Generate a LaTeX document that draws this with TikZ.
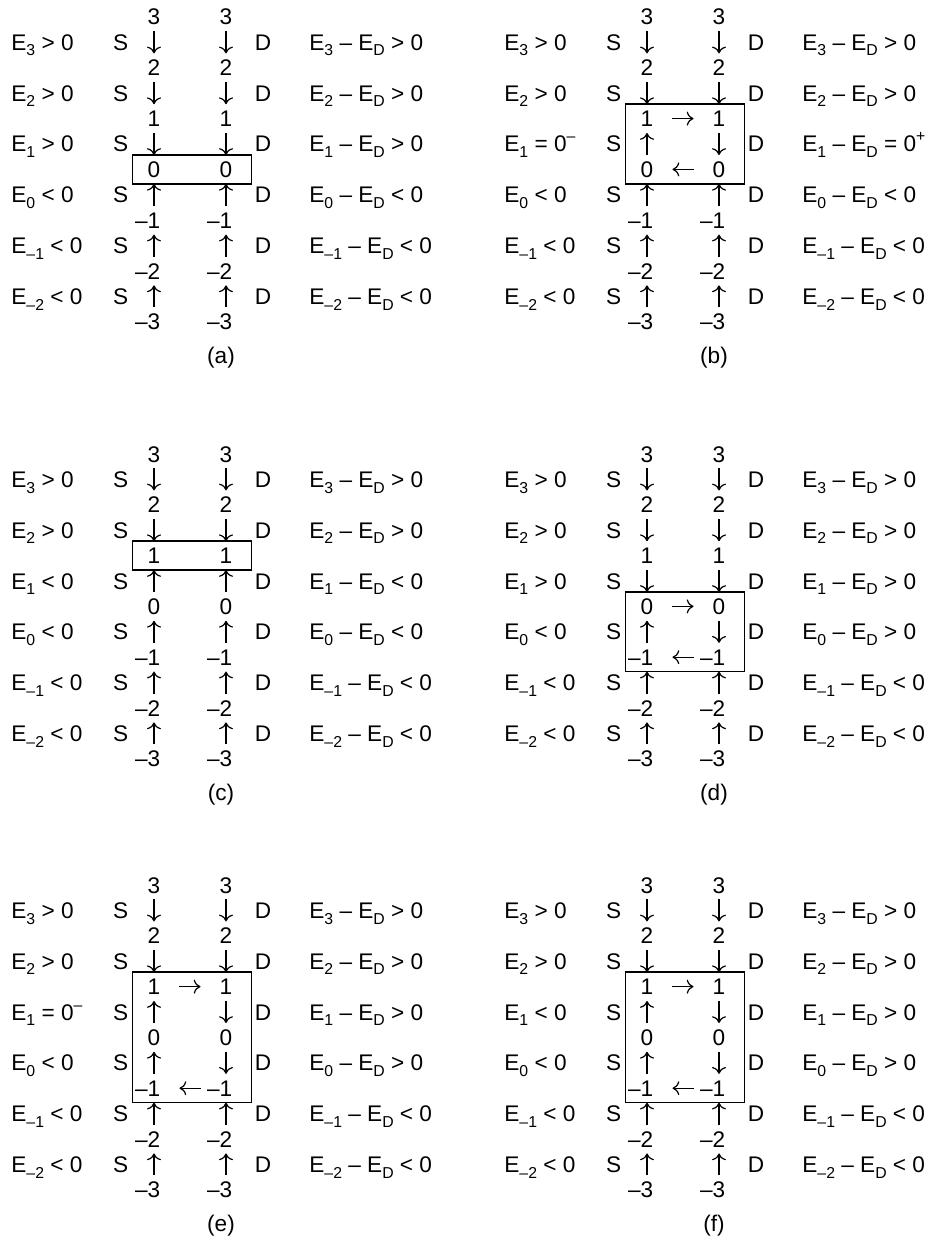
\documentclass[tikz,border=0pt]{standalone}
\usepackage{fontspec}
\setmainfont{Liberation Sans}
\usetikzlibrary{arrows.meta, fit}

\newcommand\lowidx[1]{\raisebox{-2.8pt}{\fontsize{7.9}{8}\selectfont #1}}
\newcommand\upidx[1]{\raisebox{5pt}{\fontsize{7.9}{8}\selectfont #1}}

\tikzset{
  rowtext/.style={inner sep=0pt, text height=8pt, text depth=0pt},
  lvnum/.style={inner sep=0pt, text height=8pt, text depth=0pt},
  hop/.style={-{Computer Modern Rightarrow[length=3.4pt,width=7pt]}, line width=0.6pt, shorten >=3pt, shorten <=3pt},
  hhop/.style={hop, shorten >=9.4pt, shorten <=9.4pt},
  levelbox/.style={draw, line width=0.85pt, inner xsep=8.4pt, inner ysep=3pt, xshift=1pt}
}

% #1 tag, #2/#3 offset, #4 rows sub/left/right/srcdir/drndir, #5/#6 box from/to level
\newcommand\levelpanel[6]{%
  \begin{scope}[shift={(#2,#3)}]
    % levels on both sides
    \foreach \n [count=\k from 0] in {3,2,1,0,\llap{\textendash}1,\llap{\textendash}2,\llap{\textendash}3} {
      \node[lvnum] (#1src\k) at (154,17+50.8*\k) {\n};
      \node[lvnum] (#1drn\k) at (226,17+50.8*\k) {\n};
    }
    % rows
    \foreach \sb/\lrel/\rrel/\ld/\rd [count=\r from 0] in {#4} {
      \pgfmathtruncatemacro\nx{\r+1}
      \node[rowtext, anchor=west] (#1e\r) at (11,42.4+50.8*\r) {E\lowidx{\sb} \lrel};
      \node[rowtext] (#1S\r) at (120.7,42.4+50.8*\r) {S};
      \node[rowtext] (#1D\r) at (263,42.4+50.8*\r) {D};
      \node[rowtext, anchor=west] (#1ed\r) at (309,42.4+50.8*\r) {E\lowidx{\sb} \textendash{} E\lowidx{D} \rrel};
      \if\ld d \draw[hop] (#1src\r) -- (#1src\nx); \else \draw[hop] (#1src\nx) -- (#1src\r); \fi
      \if\rd d \draw[hop] (#1drn\r) -- (#1drn\nx); \else \draw[hop] (#1drn\nx) -- (#1drn\r); \fi
    }
    % loop between the sides
    \ifnum#5<#6
      \draw[hhop] (#1src#5) -- (#1drn#5);
      \draw[hhop] (#1drn#6) -- (#1src#6);
    \fi
    \node[levelbox, fit=(#1src#5)(#1drn#6)] (#1box) {};
    \node (#1cap) at (221,358) {(#1)};
  \end{scope}
}

\begin{document}
\begin{tikzpicture}[x=0.5pt, y=-0.5pt, font=\fontsize{11.3}{13}\selectfont]
  \useasboundingbox (0,0) rectangle (928,1241);

  \levelpanel{a}{0}{0}{3/> 0/> 0/d/d, 2/> 0/> 0/d/d, 1/> 0/> 0/d/d,
    0/< 0/< 0/u/u, \textendash1/< 0/< 0/u/u, \textendash2/< 0/< 0/u/u}{3}{3}
  \levelpanel{b}{493}{0}{3/> 0/> 0/d/d, 2/> 0/> 0/d/d,
    1/= 0\upidx{\textendash}/= 0\upidx{+}/u/d,
    0/< 0/< 0/u/u, \textendash1/< 0/< 0/u/u, \textendash2/< 0/< 0/u/u}{2}{3}

  \levelpanel{c}{0}{437}{3/> 0/> 0/d/d, 2/> 0/> 0/d/d, 1/< 0/< 0/u/u,
    0/< 0/< 0/u/u, \textendash1/< 0/< 0/u/u, \textendash2/< 0/< 0/u/u}{2}{2}
  \levelpanel{d}{493}{437}{3/> 0/> 0/d/d, 2/> 0/> 0/d/d, 1/> 0/> 0/d/d,
    0/< 0/> 0/u/d, \textendash1/< 0/< 0/u/u, \textendash2/< 0/< 0/u/u}{3}{4}

  \levelpanel{e}{0}{868}{3/> 0/> 0/d/d, 2/> 0/> 0/d/d,
    1/= 0\upidx{\textendash}/> 0/u/d,
    0/< 0/> 0/u/d, \textendash1/< 0/< 0/u/u, \textendash2/< 0/< 0/u/u}{2}{4}
  \levelpanel{f}{493}{868}{3/> 0/> 0/d/d, 2/> 0/> 0/d/d, 1/< 0/> 0/u/d,
    0/< 0/> 0/u/d, \textendash1/< 0/< 0/u/u, \textendash2/< 0/< 0/u/u}{2}{4}
\end{tikzpicture}
\end{document}
